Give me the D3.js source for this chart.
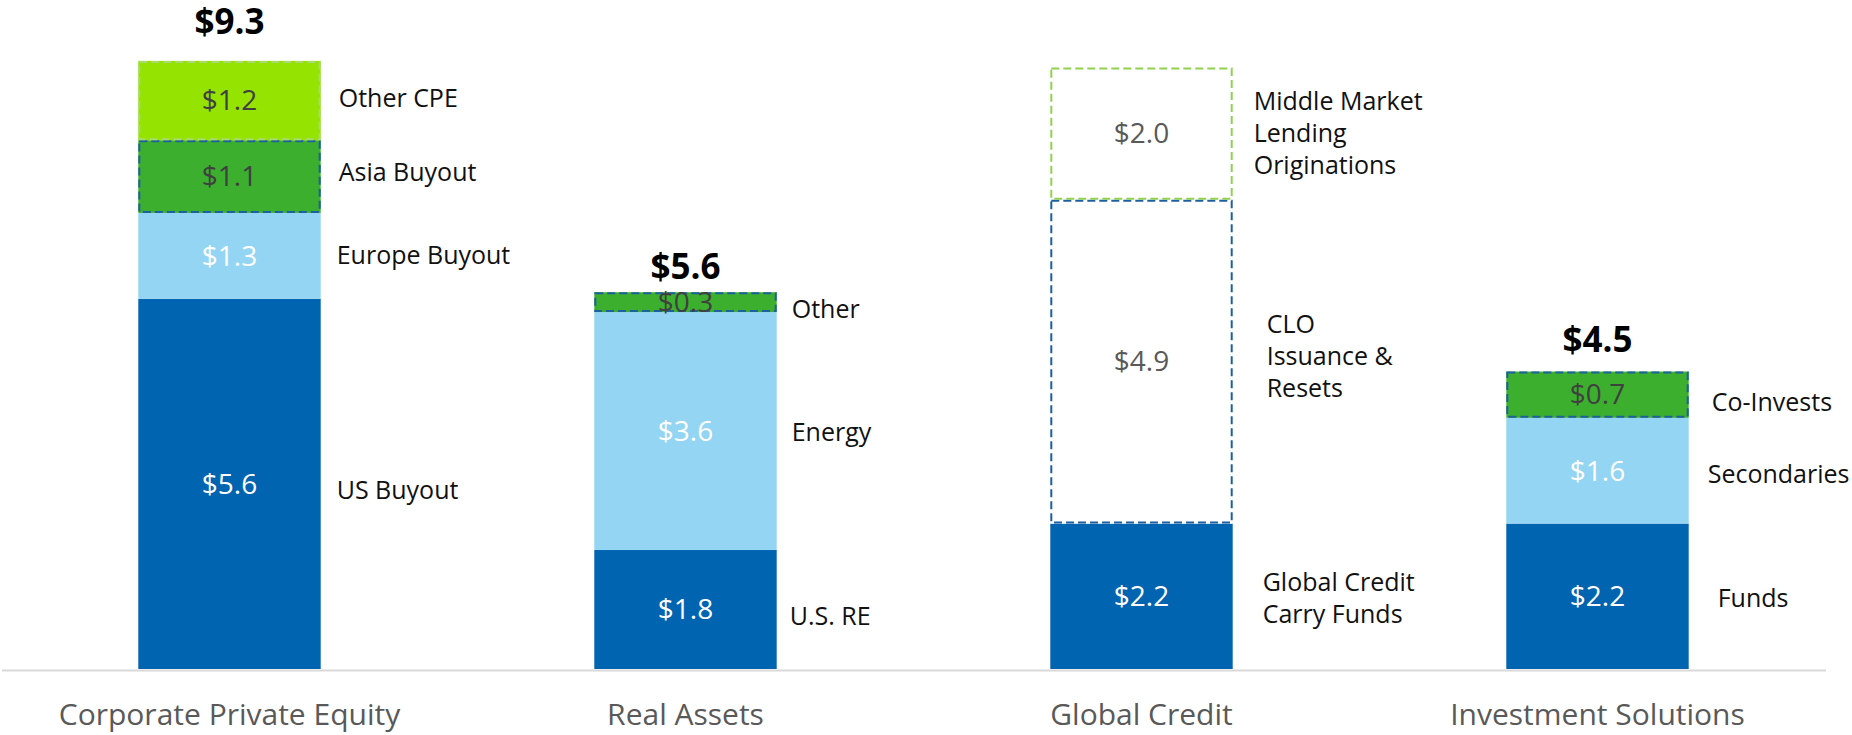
<!DOCTYPE html>
<html>
<head>
<meta charset="utf-8">
<script src="https://cdn.jsdelivr.net/npm/d3@7"></script>
<style>
  html, body { margin: 0; padding: 0; background: #ffffff; }
  svg { display: block; font-family: "Open Sans", "Noto Sans", sans-serif; }
</style>
</head>
<body>
<svg id="chart" width="1852" height="735"></svg>
<script>
// ---- Data (US$ billions) ----
const categories = ["Corporate Private Equity", "Real Assets", "Global Credit", "Investment Solutions"];
const totalValues = [9.3, 5.6, null, 4.5];

const cpeNames = ["US Buyout", "Europe Buyout", "Asia Buyout", "Other CPE"];
const cpeValues = [5.6, 1.3, 1.1, 1.2];

const realAssetsNames = ["U.S. RE", "Energy", "Other"];
const realAssetsValues = [1.8, 3.6, 0.3];

const creditNames = ["Global Credit\nCarry Funds", "CLO\nIssuance &\nResets", "Middle Market\nLending\nOriginations"];
const creditValues = [2.2, 4.9, 2.0];

const solutionsNames = ["Funds", "Secondaries", "Co-Invests"];
const solutionsValues = [2.2, 1.6, 0.7];

const segmentNames = [cpeNames, realAssetsNames, creditNames, solutionsNames];
const segmentValues = [cpeValues, realAssetsValues, creditValues, solutionsValues];

// ---- Appearance ----
const palette = {
  core:      { fill: "#0064B1", text: "#ffffff", stroke: null },
  light:     { fill: "#93D5F2", text: "#ffffff", stroke: null },
  green:     { fill: "#3CAF2F", text: "#404040", stroke: "#1D5F9F" },
  lime:      { fill: "#95E300", text: "#404040", stroke: "#A9DA6E" },
  openBlue:  { fill: "#ffffff", text: "#595959", stroke: "#1D5F9F" },
  openLime:  { fill: "#ffffff", text: "#595959", stroke: "#92D050" }
};

// style key, label offset from bar edge (dx) and vertical nudge (dy)
const segmentLook = {
  "US Buyout":     ["core", 16, 6],
  "Europe Buyout": ["light", 16, -1],
  "Asia Buyout":   ["green", 18, -4],
  "Other CPE":     ["lime", 18, -2],
  "U.S. RE":       ["core", 13, 7],
  "Energy":        ["light", 15, 1],
  "Other":         ["green", 15, 7],
  "Global Credit\nCarry Funds": ["core", 30, 2],
  "CLO\nIssuance &\nResets":    ["openBlue", 34, -5],
  "Middle Market\nLending\nOriginations": ["openLime", 21, 0],
  "Funds":         ["core", 29, 2],
  "Secondaries":   ["light", 19, 4],
  "Co-Invests":    ["green", 23, 8]
};

const svg = d3.select("#chart");

const x = d3.scaleBand()
  .domain(categories)
  .range([1.5, 1825.5])
  .paddingInner(0.6)
  .paddingOuter(0.3);

const y = d3.scaleLinear().domain([0, 10]).range([669, 8]);

const fmt = v => "$" + d3.format(".1f")(v);

// Build stacked segments
const segments = [];
categories.forEach((cat, i) => {
  const vals = segmentValues[i];
  const ends = Array.from(d3.cumsum(vals));
  vals.forEach((v, j) => {
    const name = segmentNames[i][j];
    const look = segmentLook[name];
    segments.push({
      category: cat, name, value: v,
      y0: ends[j] - v, y1: ends[j],
      style: palette[look[0]], dx: look[1], dy: look[2]
    });
  });
});

// Axis (baseline + category names)
const axis = d3.axisBottom(x).tickSize(0).tickSizeOuter(0).tickPadding(34);
const axisG = svg.append("g")
  .attr("transform", "translate(0,670)")
  .call(axis);
axisG.select(".domain").attr("stroke", "#D9D9D9").attr("stroke-width", 2);
axisG.selectAll(".tick text")
  .attr("font-size", 30)
  .attr("fill", "#595959")
  .attr("font-family", "\"Open Sans\", sans-serif");

// Bar fills
const bars = svg.append("g");
bars.selectAll("rect.fill")
  .data(segments)
  .join("rect")
  .attr("class", "fill")
  .attr("x", d => x(d.category))
  .attr("width", x.bandwidth())
  .attr("y", d => y(d.y1))
  .attr("height", d => y(d.y0) - y(d.y1))
  .attr("fill", d => d.style.fill);

// Dashed outlines
bars.selectAll("rect.outline")
  .data(segments.filter(d => d.style.stroke))
  .join("rect")
  .attr("class", "outline")
  .attr("x", d => x(d.category) + 1)
  .attr("width", x.bandwidth() - 2)
  .attr("y", d => y(d.y1) + 1)
  .attr("height", d => y(d.y0) - y(d.y1) - 2)
  .attr("fill", "none")
  .attr("stroke", d => d.style.stroke)
  .attr("stroke-width", 2)
  .attr("stroke-dasharray", "8,4");

// Values inside segments
svg.append("g").selectAll("text")
  .data(segments)
  .join("text")
  .attr("x", d => x(d.category) + x.bandwidth() / 2)
  .attr("y", d => (y(d.y0) + y(d.y1)) / 2)
  .attr("dy", "0.35em")
  .attr("text-anchor", "middle")
  .attr("font-size", 28)
  .attr("fill", d => d.style.text)
  .text(d => fmt(d.value));

// Segment names to the right of each bar
const lineH = 32;
const names = svg.append("g").selectAll("text")
  .data(segments)
  .join("text")
  .attr("font-size", 25)
  .attr("fill", "#111111")
  .attr("x", d => x(d.category) + x.bandwidth() + d.dx)
  .attr("y", d => (y(d.y0) + y(d.y1)) / 2 + d.dy);
names.each(function (d) {
  const lines = d.name.split("\n");
  const t = d3.select(this);
  const cx = x(d.category) + x.bandwidth() + d.dx;
  lines.forEach((ln, k) => {
    t.append("tspan")
      .attr("x", cx)
      .attr("dy", k === 0 ? (0.35 * 25 - (lines.length - 1) / 2 * lineH) + "px" : lineH + "px")
      .text(ln);
  });
});

// Totals above bars
svg.append("g").selectAll("text")
  .data(categories.map((c, i) => ({ category: c, total: totalValues[i] })).filter(d => d.total != null))
  .join("text")
  .attr("x", d => x(d.category) + x.bandwidth() / 2)
  .attr("y", d => y(d.total) - 20)
  .attr("text-anchor", "middle")
  .attr("font-size", 35)
  .attr("font-weight", 700)
  .attr("fill", "#000000")
  .text(d => fmt(d.total));
</script>
</body>
</html>
